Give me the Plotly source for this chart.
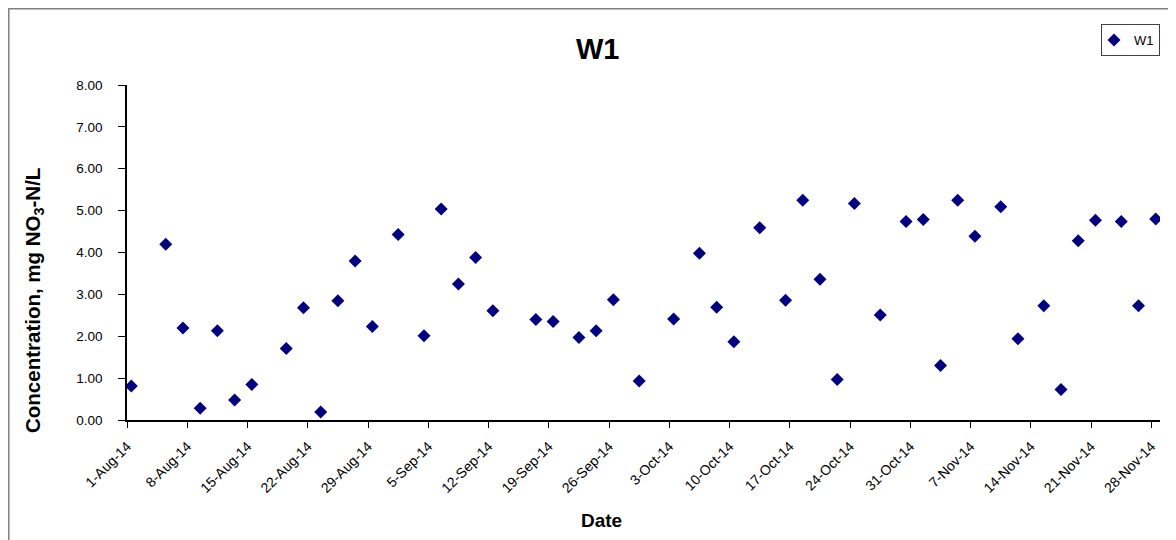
import plotly.graph_objects as go

# ---- data ----
sample_dates = [
    "2014-08-01", "2014-08-05", "2014-08-07", "2014-08-09", "2014-08-11", "2014-08-13",
    "2014-08-15", "2014-08-19", "2014-08-21", "2014-08-23", "2014-08-25", "2014-08-27",
    "2014-08-29", "2014-09-01", "2014-09-04", "2014-09-06", "2014-09-08", "2014-09-10",
    "2014-09-12", "2014-09-17", "2014-09-19", "2014-09-22", "2014-09-24", "2014-09-26",
    "2014-09-29", "2014-10-03", "2014-10-06", "2014-10-08", "2014-10-10", "2014-10-13",
    "2014-10-16", "2014-10-18", "2014-10-20", "2014-10-22", "2014-10-24", "2014-10-27",
    "2014-10-30", "2014-11-01", "2014-11-03", "2014-11-05", "2014-11-07", "2014-11-10",
    "2014-11-12", "2014-11-15", "2014-11-17", "2014-11-19", "2014-11-21", "2014-11-24",
    "2014-11-26", "2014-11-28",
]
sample_time = "12:00"
w1_values = [
    0.81, 4.20, 2.20, 0.28, 2.13, 0.48,
    0.85, 1.71, 2.68, 0.19, 2.85, 3.80,
    2.23, 4.43, 2.01, 5.04, 3.25, 3.88,
    2.61, 2.40, 2.35, 1.97, 2.13, 2.87,
    0.93, 2.41, 3.98, 2.69, 1.87, 4.59,
    2.86, 5.25, 3.36, 0.97, 5.17, 2.51,
    4.74, 4.79, 1.30, 5.25, 4.39, 5.09,
    1.94, 2.73, 0.73, 4.28, 4.77, 4.74,
    2.73, 4.80,
]
series_name = "W1"
x_range = ["2014-08-01", "2014-11-29"]
y_ticks = [0, 1, 2, 3, 4, 5, 6, 7, 8]

x_values = [d + " " + sample_time for d in sample_dates]

FONT = "Liberation Sans, Arial, sans-serif"
NAVY = "#000080"

fig = go.Figure()
fig.add_trace(go.Scatter(
    x=x_values, y=w1_values, mode="markers", name=series_name,
    marker=dict(symbol="diamond", size=10, color=NAVY,
                line=dict(width=0)),
))

# page has an 8px body margin: figure origin sits at page (8, 8)
OFF = 8
W, H = 1176 - OFF, 540 - OFF
L = 127 - OFF
T = 85 - OFF
R = W - (1160 - OFF)
B = H - (420 - OFF)
pw = W - L - R
ph = H - T - B


def px(page_x):
    return (page_x - OFF - L) / pw


def py(page_y):
    return 1 - (page_y - OFF - T) / ph


fig.update_layout(
    width=W, height=H,
    margin=dict(l=L, r=R, t=T, b=B, autoexpand=False),
    paper_bgcolor="white", plot_bgcolor="white",
    font=dict(family=FONT, color="black"),
    showlegend=True,
    legend=dict(
        xref="container", yref="container",
        x=(1101 - OFF) / W, y=1 - (24 - OFF) / H,
        xanchor="left", yanchor="top",
        bordercolor="#404040", borderwidth=1, bgcolor="white",
        font=dict(size=13, family=FONT), itemwidth=30,
        indentation=-8, tracegroupgap=0,
    ),
    xaxis=dict(
        type="date", range=x_range, automargin=False,
        tick0="2014-08-01", dtick=7 * 86400000,
        tickformat="%-d-%b-%y", tickangle=-45,
        tickfont=dict(size=14, family=FONT),
        ticklabelstandoff=5,
        showgrid=False, zeroline=False,
        showline=True, linecolor="black", linewidth=1.5,
        ticks="outside", ticklen=6, tickcolor="black",
    ),
    yaxis=dict(
        range=[0, 8], tickvals=y_ticks, automargin=False,
        tickformat=".2f",
        tickfont=dict(size=13.5, family=FONT),
        ticklabelstandoff=13,
        showgrid=False, zeroline=False,
        showline=True, linecolor="black", linewidth=1.5,
        ticks="outside", ticklen=7, tickcolor="black",
    ),
    annotations=[
        dict(text="<b>W1</b>", xref="paper", yref="paper",
             x=px(598), y=py(49),
             showarrow=False, font=dict(size=29, family=FONT),
             xanchor="center", yanchor="middle"),
        dict(text="<b>Date</b>", xref="paper", yref="paper",
             x=px(601), y=py(520),
             showarrow=False, font=dict(size=19, family=FONT),
             xanchor="center", yanchor="middle"),
        dict(text="<b>Concentration, mg NO<sub>3</sub>-N/L</b>",
             xref="paper", yref="paper",
             x=px(34), y=py(301),
             showarrow=False, textangle=-90,
             font=dict(size=20.5, family=FONT),
             xanchor="center", yanchor="middle"),
    ],
    shapes=[
        dict(type="rect", xref="paper", yref="paper",
             x0=px(OFF + 0.8), x1=1.2, y0=-1.0, y1=py(OFF + 0.8),
             line=dict(color="#808080", width=1.5), layer="below"),
    ],
)

fig.write_html("out.html")
